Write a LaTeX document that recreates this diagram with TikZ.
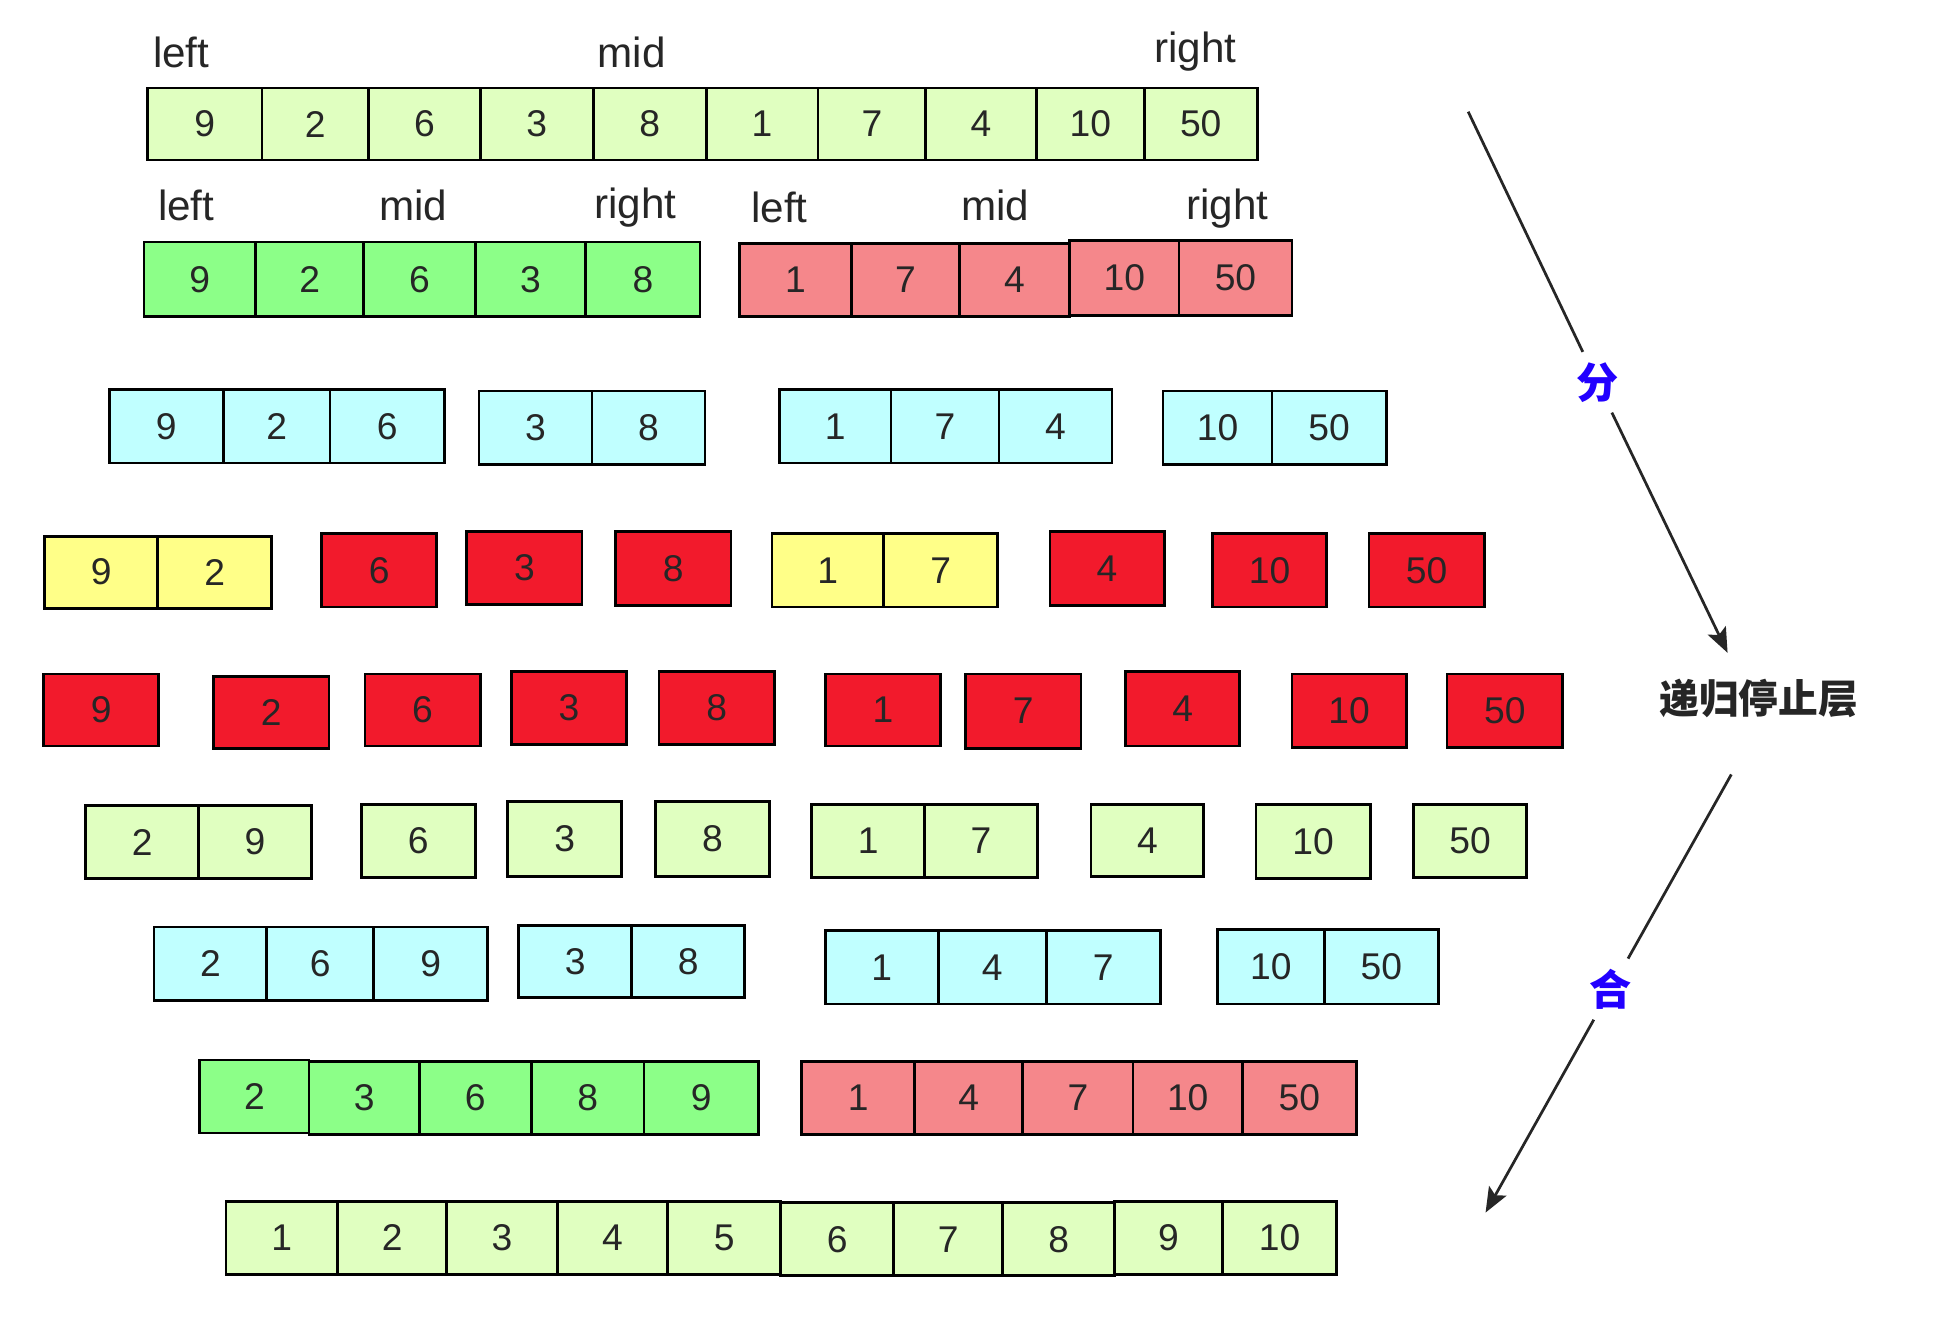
\documentclass[tikz,border=0pt]{standalone}
\usepackage{fontspec}
\setmainfont{Liberation Sans}
\newfontfamily\cjk{Noto Sans CJK SC}
\usetikzlibrary{arrows.meta}
\definecolor{lg}{HTML}{E0FFC0}
\definecolor{gr}{HTML}{8CFF88}
\definecolor{pk}{HTML}{F5878B}
\definecolor{cy}{HTML}{C0FFFF}
\definecolor{yl}{HTML}{FFFF88}
\definecolor{rd}{HTML}{F21A2C}
\definecolor{txt}{HTML}{262626}
\definecolor{bl}{HTML}{2200FF}
\tikzset{
  cell/.style={draw=black, line width=1.1pt, inner sep=0pt, text=txt, font=\fontsize{15}{18}\selectfont},
  lbl/.style={text=txt, font=\fontsize{17}{20}\selectfont, anchor=base, inner sep=0pt},
  phase/.style={text=bl, font=\cjk\bfseries\fontsize{17}{20}\selectfont, inner sep=4pt},
  conn/.style={draw=txt, line width=1.1pt},
  tip/.style={-{Stealth[length=10pt,width=8pt,inset=2pt]}}
}
\newcommand\cellgroup[5]{%
  \foreach \a/\b/\v [count=\i] in {#5}{%
    \node[cell,fill=#2,minimum width={(\b-\a)*0.5pt},minimum height={(#4-#3)*0.5pt}] (#1-\i) at ({(\a+\b)/2},{(#3+#4)/2}) {\v};}}
\begin{document}
\begin{tikzpicture}[x=0.5pt,y=-0.5pt]
\fill[white] (0,0) rectangle (1568,1073);
\useasboundingbox (0,0) rectangle (1568,1073);
% row 1
\node[lbl] (l1) at (146,54) {left};
\node[lbl] (m1) at (509,54) {mid};
\node[lbl] (g1) at (963,50) {right};
\cellgroup{r1}{lg}{71}{129}{119/211/9,211/297/2,297/387/6,387/478/3,478/569/8,569/659/1,659/746/7,746/835/4,835/922/10,922/1013/50}
% row 2
\node[lbl] (l2a) at (150,178) {left};
\node[lbl] (m2a) at (333,178) {mid};
\node[lbl] (g2a) at (512,176) {right};
\node[lbl] (l2b) at (628,179) {left};
\node[lbl] (m2b) at (802,178) {mid};
\node[lbl] (g2b) at (989,177) {right};
\cellgroup{r2a}{gr}{195}{255}{116/206/9,206/293/2,293/383/6,383/472/3,472/564/8}
\cellgroup{r2b}{pk}{196}{255}{596/686/1,686/773/7,773/862/4}
\cellgroup{r2c}{pk}{194}{254}{862/950/10,950/1041/50}
% row 3
\cellgroup{r3a}{cy}{314}{373}{88/180/9,180/266/2,266/358/6}
\cellgroup{r3b}{cy}{315}{374}{386/477/3,477/568/8}
\cellgroup{r3c}{cy}{314}{373}{628/718/1,718/805/7,805/896/4}
\cellgroup{r3d}{cy}{315}{374}{937/1025/10,1025/1117/50}
% row 4
\cellgroup{r4a}{yl}{432}{490}{36/127/9,127/219/2}
\cellgroup{r4b}{rd}{430}{489}{259/352/6}
\cellgroup{r4c}{rd}{428}{487}{376/469/3}
\cellgroup{r4d}{rd}{428}{488}{496/589/8}
\cellgroup{r4e}{yl}{430}{489}{622/712/1,712/804/7}
\cellgroup{r4f}{rd}{428}{488}{846/938/4}
\cellgroup{r4g}{rd}{430}{489}{977/1069/10}
\cellgroup{r4h}{rd}{430}{489}{1103/1196/50}
% row 5
\cellgroup{r5a}{rd}{543}{601}{35/128/9}
\cellgroup{r5b}{rd}{545}{603}{172/265/2}
\cellgroup{r5c}{rd}{543}{601}{294/387/6}
\cellgroup{r5d}{rd}{541}{600}{412/505/3}
\cellgroup{r5e}{rd}{541}{600}{531/624/8}
\cellgroup{r5f}{rd}{543}{601}{665/758/1}
\cellgroup{r5g}{rd}{543}{603}{778/871/7}
\cellgroup{r5h}{rd}{541}{601}{907/999/4}
\cellgroup{r5i}{rd}{543}{602}{1041/1133/10}
\cellgroup{r5j}{rd}{543}{602}{1166/1259/50}
\node[lbl,anchor=center,font=\cjk\bfseries\fontsize{16}{19}\selectfont] (stop) at (1417,563) {递归停止层};
% row 6
\cellgroup{r6a}{lg}{649}{708}{69/160/2,160/251/9}
\cellgroup{r6b}{lg}{648}{707}{291/383/6}
\cellgroup{r6c}{lg}{646}{706}{409/501/3}
\cellgroup{r6d}{lg}{646}{706}{528/620/8}
\cellgroup{r6e}{lg}{648}{707}{654/745/1,745/836/7}
\cellgroup{r6f}{lg}{648}{706}{879/970/4}
\cellgroup{r6g}{lg}{648}{708}{1012/1104/10}
\cellgroup{r6h}{lg}{648}{707}{1139/1230/50}
% row 7
\cellgroup{r7a}{cy}{747}{806}{124/215/2,215/301/6,301/393/9}
\cellgroup{r7b}{cy}{746}{804}{418/509/3,509/600/8}
\cellgroup{r7c}{cy}{750}{809}{665/756/1,756/843/4,843/935/7}
\cellgroup{r7d}{cy}{749}{809}{981/1067/10,1067/1159/50}
% row 8
\cellgroup{r8a}{gr}{854}{913}{161/249/2}
\cellgroup{r8b}{gr}{855}{914}{249/338/3,338/428/6,428/519/8,519/611/9}
\cellgroup{r8c}{pk}{855}{914}{646/737/1,737/824/4,824/913/7,913/1001/10,1001/1093/50}
% row 9
\cellgroup{r9a}{lg}{968}{1027}{182/272/1,272/360/2,360/449/3,449/538/4,538/629/5}
\cellgroup{r9b}{lg}{969}{1028}{629/720/6,720/808/7,808/898/8}
\cellgroup{r9c}{lg}{968}{1027}{898/985/9,985/1077/10}
% arrows
\coordinate (fs) at (1183,90);
\node[phase] (fen) at (1287,308) {分};
\coordinate (fe) at (1392,526);
\draw[conn] (fs) -- (fen);
\draw[conn,tip] (fen) -- (fe);
\coordinate (hs) at (1395,624);
\node[phase] (he) at (1298,797) {合};
\coordinate (heend) at (1197,977);
\draw[conn] (hs) -- (he);
\draw[conn,tip] (he) -- (heend);
\end{tikzpicture}
\end{document}
